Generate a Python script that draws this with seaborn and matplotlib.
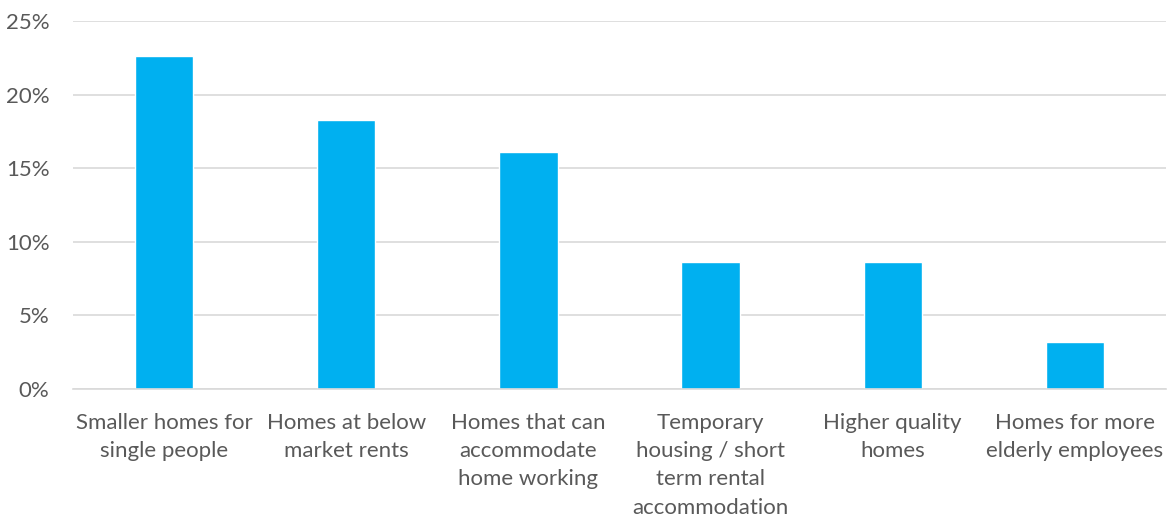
import matplotlib
matplotlib.use("Agg")
import matplotlib.pyplot as plt
import seaborn as sns
import pandas as pd
from matplotlib.ticker import PercentFormatter

categories = [
    "Smaller homes for\nsingle people",
    "Homes at below\nmarket rents",
    "Homes that can\naccommodate\nhome working",
    "Temporary\nhousing / short\nterm rental\naccommodation",
    "Higher quality\nhomes",
    "Homes for more\nelderly employees",
]
shares = [22.6, 18.3, 16.1, 8.6, 8.6, 3.2]

df = pd.DataFrame({"category": categories, "share": shares})

sns.set_style("white")
plt.rcParams["font.family"] = ["Lato", "DejaVu Sans"]

fig = plt.figure(figsize=(11.71, 5.17), dpi=100)
ax = fig.add_axes([0.0623, 0.2476, 0.9334, 0.7118])

sns.barplot(data=df, x="category", y="share", color="#00b0f0",
            saturation=1, width=0.32, ax=ax)

ax.set_ylim(0, 25)
ax.set_yticks([0, 5, 10, 15, 20, 25])
ax.yaxis.set_major_formatter(PercentFormatter(decimals=0))
ax.set_xlim(-0.5, len(categories) - 0.5)
ax.grid(axis="y", color="#d9d9d9", linewidth=1.2)
ax.set_axisbelow(True)
for s in ["top", "right", "left"]:
    ax.spines[s].set_visible(False)
ax.spines["bottom"].set_color("#d9d9d9")
ax.spines["bottom"].set_linewidth(1.2)
ax.set_xlabel("")
ax.set_ylabel("")
ax.tick_params(axis="y", length=0, pad=17, labelsize=16, labelcolor="#595959")
ax.tick_params(axis="x", length=0, pad=17, labelsize=16, labelcolor="#595959")
for lbl in ax.get_xticklabels():
    lbl.set_linespacing(1.52)
    lbl.set_verticalalignment("top")

fig.savefig("out.png", dpi=100)
